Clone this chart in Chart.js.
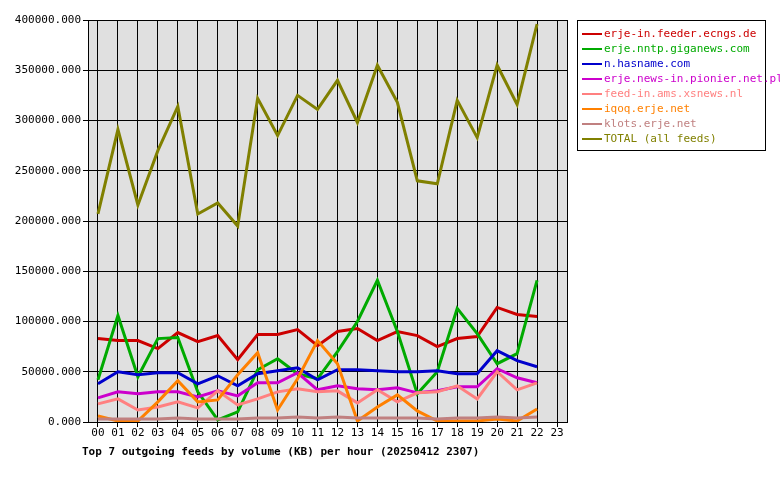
<!DOCTYPE html>
<html>
<head>
<meta charset="utf-8">
<script src="https://cdn.jsdelivr.net/npm/chart.js@4"></script>
<style>
  body { margin: 0; background: #fff; }
  #wrap { position: relative; width: 780px; height: 480px; }
  #legend { position: absolute; left: 577px; top: 20px; width: 189px; height: 131px;
    border: 1px solid #000; font: 11px "DejaVu Sans Mono", monospace; box-sizing: border-box; padding-top: 5px; }
  #legend div { height: 15px; line-height: 15px; padding-left: 4px; white-space: nowrap; }
  #legend span.k { display: inline-block; width: 20px; height: 2px; vertical-align: middle; margin-right: 2px; }
  #title { position: absolute; left: 82px; top: 445px; font: bold 11px "DejaVu Sans Mono", monospace; }
</style>
</head>
<body>
<div id="wrap">
  <canvas id="chartCanvas" width="780" height="480"></canvas>
  <div id="legend"></div>
  <div id="title">Top 7 outgoing feeds by volume (KB) per hour (20250412 2307)</div>
</div>
<script>
const hours = ["00","01","02","03","04","05","06","07","08","09","10","11","12","13","14","15","16","17","18","19","20","21","22","23"];
const yTicks = [0, 50000, 100000, 150000, 200000, 250000, 300000, 350000, 400000];

const ecngs = [83,81,81,73,89,80,86,62,87,87,92,76,90,93,81,90,86,75,83,85,114,107,105];
const giganews = [42,106,45,83,84,30,2,10,52,63,48,43,70,100,141,90,28,50,113,88,58,68,141];
const hasname = [38,50,47,49,49,38,46,36,48,51,54,42,52,52,51,50,50,51,48,48,71,61,55];
const pionier = [24,30,28,30,30,25,31,26,39,39,49,32,36,33,32,34,29,31,35,35,53,44,39];
const xsnews = [18,23,12,15,20,14,31,17,23,30,33,30,31,19,32,20,29,30,36,23,50,32,39];
const iqoq = [6,1,1,20,41,20,22,47,69,12,43,81,58,1,15,27,11,1,1,1,3,1,13];
const klots = [3,3,3,3,4,3,3,3,4,4,5,4,5,4,4,4,4,3,4,4,5,4,5];
const total = [207,291,216,270,314,207,218,195,322,285,325,311,340,298,355,318,240,237,320,283,355,316,396];

const series = [
  ["erje-in.feeder.ecngs.de", ecngs, "#cc0000"],
  ["erje.nntp.giganews.com", giganews, "#00aa00"],
  ["n.hasname.com", hasname, "#0000cc"],
  ["erje.news-in.pionier.net.pl", pionier, "#cc00cc"],
  ["feed-in.ams.xsnews.nl", xsnews, "#ff8080"],
  ["iqoq.erje.net", iqoq, "#ff8000"],
  ["klots.erje.net", klots, "#c08080"],
  ["TOTAL (all feeds)", total, "#808000"]
];

const legend = document.getElementById("legend");
series.forEach(([name, , color]) => {
  const d = document.createElement("div");
  d.style.color = color;
  d.innerHTML = '<span class="k" style="background:' + color + '"></span>' + name;
  legend.appendChild(d);
});

const frame = {
  id: "frame",
  beforeDraw(chart) {
    const { ctx, chartArea: a } = chart;
    ctx.save();
    ctx.fillStyle = "#e0e0e0";
    ctx.fillRect(a.left, a.top, a.right - a.left, a.bottom - a.top);
    ctx.restore();
  },
  afterDraw(chart) {
    const { ctx, chartArea: a } = chart;
    ctx.save();
    ctx.strokeStyle = "#000";
    ctx.lineWidth = 1;
    ctx.strokeRect(a.left + 0.5, a.top + 0.5, a.right - a.left, a.bottom - a.top);
    ctx.restore();
  }
};

new Chart(document.getElementById("chartCanvas"), {
  type: "line",
  data: {
    labels: hours,
    datasets: series.map(([name, vals, color]) => ({
      label: name,
      data: vals.map(v => v * 1000),
      borderColor: color,
      borderWidth: 3,
      pointRadius: 0,
      tension: 0
    })).reverse()
  },
  options: {
    responsive: false,
    animation: false,
    layout: { padding: { top: 20, right: 213, bottom: 38, left: 0 } },
    plugins: { legend: { display: false }, tooltip: { enabled: false } },
    scales: {
      x: {
        offset: true,
        grid: { offset: false, color: "#000", drawTicks: true, tickLength: 5 },
        border: { display: false },
        ticks: { color: "#000", font: { family: "DejaVu Sans Mono", size: 11 }, maxRotation: 0, autoSkip: false, padding: 0 },
        afterFit(s) { s.height = 20; }
      },
      y: {
        min: 0, max: 400000,
        afterBuildTicks(s) { s.ticks = yTicks.map(v => ({ value: v })); },
        grid: { color: "#000", tickLength: 5 },
        border: { display: false },
        ticks: { color: "#000", font: { family: "DejaVu Sans Mono", size: 11 }, padding: 2,
          callback: v => v.toFixed(3) },
        afterFit(s) { s.width = 88; }
      }
    }
  },
  plugins: [frame]
});
</script>
</body>
</html>
